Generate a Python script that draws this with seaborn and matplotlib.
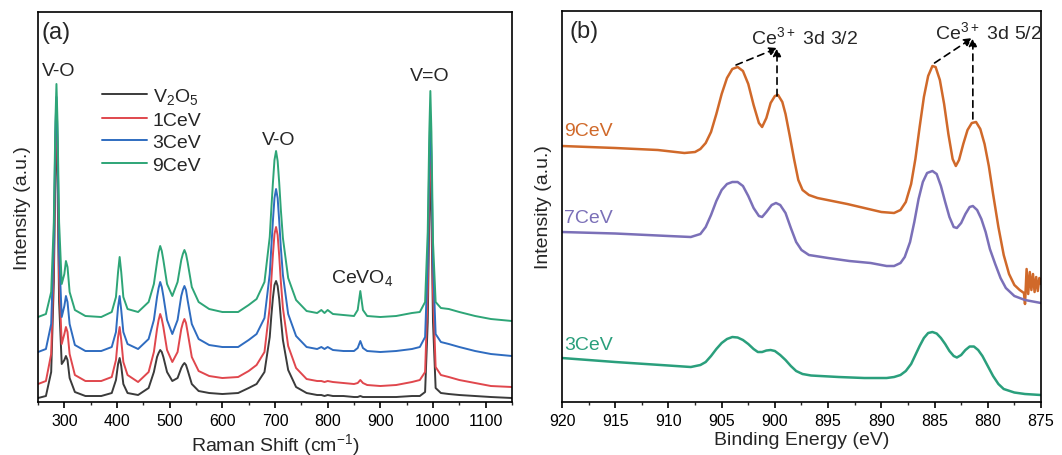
import matplotlib
matplotlib.use('Agg')
import matplotlib.pyplot as plt
from matplotlib.ticker import MultipleLocator
import seaborn as sns
import pandas as pd

# ---- (a) Raman spectra (a.u., offset stacked)
raman_shift = [250, 265, 275, 280, 283, 285, 287, 290, 295, 300,
               303, 306, 310, 320, 340, 370, 390, 398, 402, 405,
               408, 412, 420, 440, 460, 470, 476, 479, 482, 485,
               488, 495, 505, 515, 522, 525, 528, 531, 534, 542,
               555, 575, 600, 630, 650, 665, 680, 690, 693, 696,
               699, 702, 705, 708, 711, 715, 725, 740, 760, 780,
               788, 794, 800, 810, 830, 850, 857, 862, 867, 875,
               900, 930, 960, 975, 985, 990, 993, 995, 997, 1000,
               1005, 1015, 1030, 1050, 1080, 1110, 1150]

raman_v2o5 = [4, 6, 30, 120, 235, 270, 225, 100, 38, 42,
              46, 42, 24, 10, 6, 6, 9, 22, 38, 44,
              36, 18, 9, 7, 14, 30, 45, 49, 52, 50,
              45, 30, 21, 24, 34, 37, 39, 37, 32, 18,
              11, 9, 8, 9, 14, 18, 30, 65, 86, 104,
              117, 121, 116, 103, 84, 62, 32, 15, 9, 7,
              7, 6, 7, 6, 6, 5, 5, 6, 5, 5,
              5, 5, 6, 6, 10, 80, 190, 230, 190, 80,
              14, 9, 8, 7, 6, 5, 4]

raman_1cev = [18, 21, 48, 140, 255, 290, 250, 125, 58, 68,
              75, 70, 48, 27, 21, 21, 25, 42, 65, 75,
              62, 40, 27, 20, 30, 50, 73, 82, 88, 83,
              75, 52, 40, 50, 73, 79, 83, 79, 70, 45,
              31, 26, 24, 25, 31, 37, 50, 95, 122, 147,
              168, 175, 167, 146, 121, 94, 56, 34, 23, 21,
              21, 20, 21, 20, 19, 18, 19, 22, 19, 17,
              16, 17, 20, 22, 30, 110, 220, 260, 220, 110,
              35, 27, 25, 22, 19, 16, 15]

raman_3cev = [50, 53, 78, 160, 270, 305, 265, 150, 85, 96,
              106, 100, 78, 57, 51, 51, 55, 70, 95, 106,
              92, 70, 58, 53, 63, 82, 105, 114, 120, 115,
              106, 82, 68, 82, 106, 112, 116, 112, 102, 78,
              63, 57, 55, 55, 62, 68, 84, 128, 155, 181,
              204, 213, 204, 181, 155, 127, 88, 66, 55, 53,
              55, 53, 55, 52, 51, 51, 54, 61, 54, 51,
              50, 51, 53, 55, 65, 140, 245, 285, 245, 140,
              68, 60, 58, 55, 51, 48, 46]

raman_9cev = [85, 88, 110, 180, 280, 318, 280, 180, 118, 128,
              141, 135, 110, 92, 86, 85, 90, 105, 130, 145,
              130, 105, 93, 90, 100, 118, 140, 150, 156, 151,
              142, 118, 106, 120, 142, 148, 152, 148, 140, 115,
              100, 93, 90, 90, 97, 103, 120, 165, 193, 219,
              242, 251, 241, 219, 193, 164, 124, 102, 91, 89,
              92, 89, 92, 88, 87, 86, 92, 111, 92, 86,
              85, 86, 89, 90, 100, 170, 270, 311, 270, 160,
              100, 94, 93, 90, 86, 83, 81]

raman_labels = ['V$_2$O$_5$', '1CeV', '3CeV', '9CeV']
raman_colors = ['#3b3b3b', '#e0474d', '#2f6cc0', '#2ea577']

# ---- (b) Ce 3d XPS
xps_9cev_be = [920, 915, 911, 908.5, 907.5, 907.0, 906.5, 906.0, 905.5, 905.0,
               904.5, 904.0, 903.5, 903.0, 902.5, 902.0, 901.5, 901.2, 900.8, 900.4,
               900.0, 899.7, 899.3, 899.0, 898.6, 898.2, 897.8, 897.4, 896.8, 896.0,
               893.2, 890.0, 888.8, 888.2, 887.7, 887.2, 886.8, 886.4, 886.0, 885.6,
               885.2, 884.9, 884.5, 884.1, 883.7, 883.3, 883.0, 882.7, 882.3, 881.9,
               881.5, 881.1, 880.7, 880.3, 879.9, 879.5, 879.0, 878.5, 878.0, 877.5,
               877.0, 876.6, 876.5, 876.35, 876.2, 876.05, 875.9, 875.75, 875.6, 875.45,
               875.3, 875.15, 875.0]
xps_9cev_int = [256, 254, 252, 249, 250, 253, 259, 270, 288, 308,
                324, 333, 335, 331, 318, 297, 279, 275, 284, 299,
                306, 307, 300, 288, 266, 243, 222, 212, 207, 204,
                198, 190, 189, 192, 200, 218, 243, 275, 305, 326,
                336, 335, 322, 298, 268, 243, 236, 242, 258, 272,
                279, 280, 273, 258, 236, 208, 175, 147, 128, 117,
                112, 109, 98, 133, 108, 130, 112, 128, 110, 125,
                111, 124, 118]

xps_7cev_be = [920, 915, 910, 907.9, 907.0, 906.5, 906.0, 905.5, 905.0, 904.5,
               904.0, 903.5, 903.0, 902.5, 902.0, 901.5, 901.2, 900.8, 900.3, 899.9,
               899.5, 899.0, 898.5, 898.0, 897.5, 896.8, 895.0, 893.0, 891.0, 889.5,
               888.8, 888.2, 887.8, 887.3, 886.9, 886.5, 886.1, 885.7, 885.2, 884.8,
               884.4, 884.0, 883.6, 883.2, 882.9, 882.5, 882.1, 881.7, 881.4, 881.0,
               880.6, 880.2, 879.8, 879.3, 878.8, 878.3, 877.5, 876.5, 875.0]
xps_7cev_int = [170, 168.5, 166, 165, 168, 175, 187, 201, 212, 218,
                220, 220, 216, 206, 194, 186, 185, 190, 197, 199,
                197, 189, 174, 160, 152, 147, 144, 141, 139, 136,
                136, 139, 145, 160, 180, 203, 220, 229, 231, 228,
                216, 200, 185, 175, 174, 179, 188, 195, 196, 192,
                183, 170, 153, 138, 124, 114, 106, 102, 99]

xps_3cev_be = [920, 915, 910, 907.9, 907.0, 906.5, 906.0, 905.5, 905.0, 904.5,
               904.0, 903.5, 903.0, 902.5, 902.0, 901.6, 901.2, 900.8, 900.4, 900.0,
               899.5, 899.0, 898.5, 898.0, 897.4, 896.6, 894.0, 891.6, 889.5, 888.8,
               888.2, 887.7, 887.2, 886.8, 886.4, 886.0, 885.6, 885.2, 884.8, 884.4,
               884.0, 883.6, 883.2, 882.9, 882.5, 882.1, 881.7, 881.3, 880.9, 880.5,
               880.0, 879.5, 879.0, 878.5, 877.5, 876.5, 875.0]
xps_3cev_int = [44, 40, 36.5, 35, 37, 40, 46, 53, 59, 63,
                65, 64.5, 62, 58, 53, 50, 50, 51.5, 52, 51,
                47, 42, 36, 31, 28, 26.5, 25, 24, 24, 25,
                27, 31, 38, 47, 56, 64, 69, 70, 68.5, 64,
                58, 51, 46, 44.5, 47, 52, 55.5, 55.5, 52, 46,
                36, 26, 18, 13, 9.5, 8, 7]

xps_colors = {'9CeV': '#d0692a', '7CeV': '#7b70b8', '3CeV': '#2a9f7c'}

sns.set_theme(style='ticks')
plt.rcParams['font.family'] = ['Liberation Sans', 'DejaVu Sans']
plt.rcParams['mathtext.default'] = 'regular'
plt.rcParams['axes.linewidth'] = 1.2
plt.rcParams['axes.edgecolor'] = 'black'

fig = plt.figure(figsize=(10.62, 4.56), dpi=100)
ax1 = fig.add_axes([0.0358, 0.1162, 0.4463, 0.8553])
ax2 = fig.add_axes([0.5292, 0.1162, 0.4510, 0.8575])

# ---- panel (a)
n = len(raman_shift)
raman = pd.DataFrame({
    'shift': raman_shift * 4,
    'intensity': raman_v2o5 + raman_1cev + raman_3cev + raman_9cev,
    'sample': [lab for lab in raman_labels for _ in range(n)],
})
sns.lineplot(data=raman, x='shift', y='intensity', hue='sample',
             hue_order=raman_labels, palette=raman_colors,
             linewidth=1.4, estimator=None, sort=False, ax=ax1)

ax1.set_xlim(250, 1150)
ax1.set_ylim(0, 390)
ax1.xaxis.set_major_locator(MultipleLocator(100))
ax1.xaxis.set_minor_locator(MultipleLocator(50))
ax1.set_yticks([])
ax1.set_xlabel('Raman Shift (cm$^{-1}$)', fontsize=14, labelpad=2)
ax1.set_ylabel('Intensity (a.u.)', fontsize=14, labelpad=5)
ax1.legend(loc='upper left', bbox_to_anchor=(0.135, 0.81), frameon=False,
           fontsize=14, handlelength=2.3, labelspacing=0.25,
           handletextpad=0.3, borderpad=0, borderaxespad=0)

ax1.text(257, 370, '(a)', fontsize=17, ha='left', va='center')
ax1.text(290, 331, 'V-O', fontsize=14, ha='center', va='center')
ax1.text(706, 263, 'V-O', fontsize=14, ha='center', va='center')
ax1.text(865, 125, 'CeVO$_4$', fontsize=14, ha='center', va='center')
ax1.text(994, 326, 'V=O', fontsize=14, ha='center', va='center')

# ---- panel (b)
for lab, be, inten in [('9CeV', xps_9cev_be, xps_9cev_int),
                       ('7CeV', xps_7cev_be, xps_7cev_int),
                       ('3CeV', xps_3cev_be, xps_3cev_int)]:
    sns.lineplot(x=be, y=inten, color=xps_colors[lab], linewidth=1.8,
                 estimator=None, sort=False, ax=ax2)

ax2.set_xlim(920, 875)
ax2.set_ylim(0, 391)
ax2.xaxis.set_major_locator(MultipleLocator(5))
ax2.xaxis.set_minor_locator(MultipleLocator(2.5))
ax2.set_yticks([])
ax2.set_xlabel('Binding Energy (eV)', fontsize=14, labelpad=2)
ax2.set_ylabel('Intensity (a.u.)', fontsize=14, labelpad=7)

ax2.text(919.3, 371, '(b)', fontsize=17, ha='left', va='center')
ax2.text(919.8, 271, '9CeV', fontsize=14, color=xps_colors['9CeV'], ha='left', va='center')
ax2.text(919.8, 185, '7CeV', fontsize=14, color=xps_colors['7CeV'], ha='left', va='center')
ax2.text(919.8, 58, '3CeV', fontsize=14, color=xps_colors['3CeV'], ha='left', va='center')
ax2.text(902.2, 366, 'Ce$^{3+}$ 3d 3/2', fontsize=14, ha='left', va='center')
ax2.text(885.0, 371, 'Ce$^{3+}$ 3d 5/2', fontsize=14, ha='left', va='center')

arrow_kw = dict(arrowstyle='-|>', linestyle=(0, (4, 3)), lw=1.2, color='black',
                shrinkA=0, shrinkB=0, mutation_scale=12)
for start, end in [((903.65, 337), (899.75, 354)), ((899.8, 306), (899.8, 354)),
                   ((885.0, 339), (881.45, 364)), ((881.4, 283), (881.4, 364))]:
    ax2.annotate('', xy=end, xytext=start, arrowprops=arrow_kw)

for ax in (ax1, ax2):
    ax.tick_params(axis='x', which='major', direction='out', length=4, width=1.2,
                   labelsize=11.5, pad=4, colors='black')
    ax.tick_params(axis='x', which='minor', direction='out', length=2.5, width=1.0)
    for sp in ax.spines.values():
        sp.set_visible(True)
        sp.set_color('black')
        sp.set_linewidth(1.2)

fig.savefig('out.png', dpi=100)
